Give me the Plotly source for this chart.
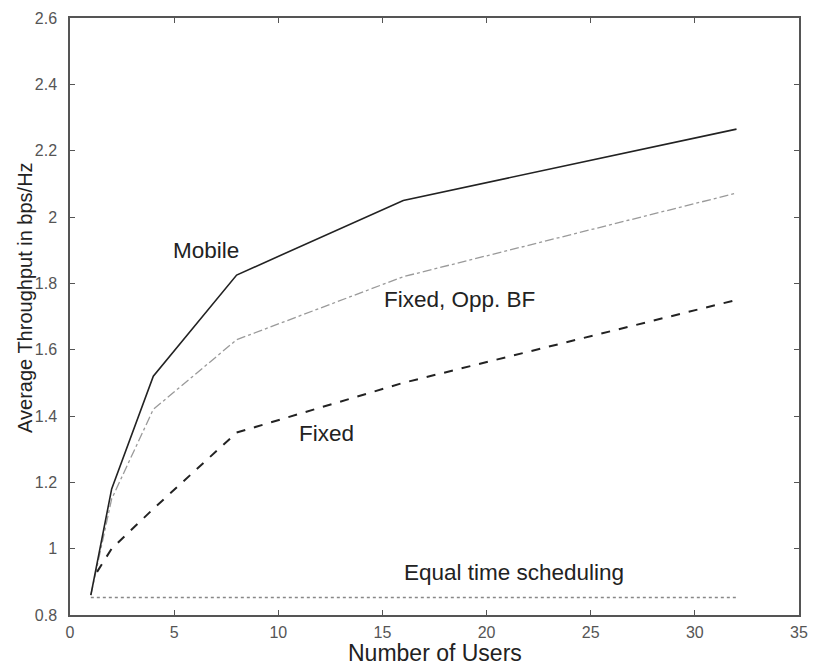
import plotly.graph_objects as go

users = [1, 2, 4, 8, 16, 32]
mobile = [0.86, 1.18, 1.52, 1.825, 2.05, 2.265]
fixed_opp_bf = [0.86, 1.15, 1.42, 1.63, 1.82, 2.072]
fixed = [0.93, 1.0, 1.12, 1.35, 1.5, 1.75]
fixed_x = [1.3, 2, 4, 8, 16, 32]
equal_time = [0.853, 0.853, 0.853, 0.853, 0.853, 0.853]

x_ticks = [0, 5, 10, 15, 20, 25, 30, 35]
y_ticks = [0.8, 1.0, 1.2, 1.4, 1.6, 1.8, 2.0, 2.2, 2.4, 2.6]
y_labels = ["0.8", "1", "1.2", "1.4", "1.6", "1.8", "2", "2.2", "2.4", "2.6"]

labels = ["Mobile", "Fixed, Opp. BF", "Fixed", "Equal time scheduling"]
label_x = [6.55, 18.7, 12.3, 21.3]
label_y = [1.90, 1.75, 1.348, 0.927]

FONT = "Liberation Sans, Arial"

fig = go.Figure()
fig.add_trace(go.Scatter(x=users, y=equal_time, mode="lines",
                         line=dict(color="#888888", width=1.5, dash="dot")))
fig.add_trace(go.Scatter(x=users, y=fixed_opp_bf, mode="lines",
                         line=dict(color="#9a9a9a", width=1.3, dash="dashdot")))
fig.add_trace(go.Scatter(x=fixed_x, y=fixed, mode="lines",
                         line=dict(color="#222222", width=2, dash="dash")))
fig.add_trace(go.Scatter(x=users, y=mobile, mode="lines",
                         line=dict(color="#222222", width=1.6)))

for t, xv, yv in zip(labels, label_x, label_y):
    fig.add_annotation(x=xv, y=yv, text=t, showarrow=False,
                       font=dict(family=FONT, size=22.5, color="#222222"))

# axis titles
fig.add_annotation(xref="paper", yref="paper", x=0.5, y=-0.0635, text="Number of Users",
                   showarrow=False, xanchor="center", yanchor="middle",
                   font=dict(family=FONT, size=23, color="#222222"))
fig.add_annotation(xref="paper", yref="paper", x=-0.061, y=0.532,
                   text="Average Throughput in bps/Hz", textangle=-90,
                   showarrow=False, xanchor="center", yanchor="middle",
                   font=dict(family=FONT, size=20, color="#222222"))

axis_common = dict(showgrid=False, zeroline=False, showline=True, linecolor="#555555",
                   linewidth=1.5, mirror="ticks", ticks="inside", ticklen=5,
                   tickcolor="#555555",
                   tickfont=dict(family=FONT, size=16, color="#555555"))

fig.update_layout(
    width=818, height=667,
    margin=dict(l=70, r=10, t=17, b=52),
    paper_bgcolor="white", plot_bgcolor="white",
    showlegend=False,
    xaxis=dict(range=[0, 35], tickvals=x_ticks, ticktext=[str(v) for v in x_ticks],
               ticklabelstandoff=2, **axis_common),
    yaxis=dict(range=[0.8, 2.6], tickvals=y_ticks, ticktext=y_labels,
               ticklabelstandoff=8, **axis_common),
)

fig.write_html("out.html")
